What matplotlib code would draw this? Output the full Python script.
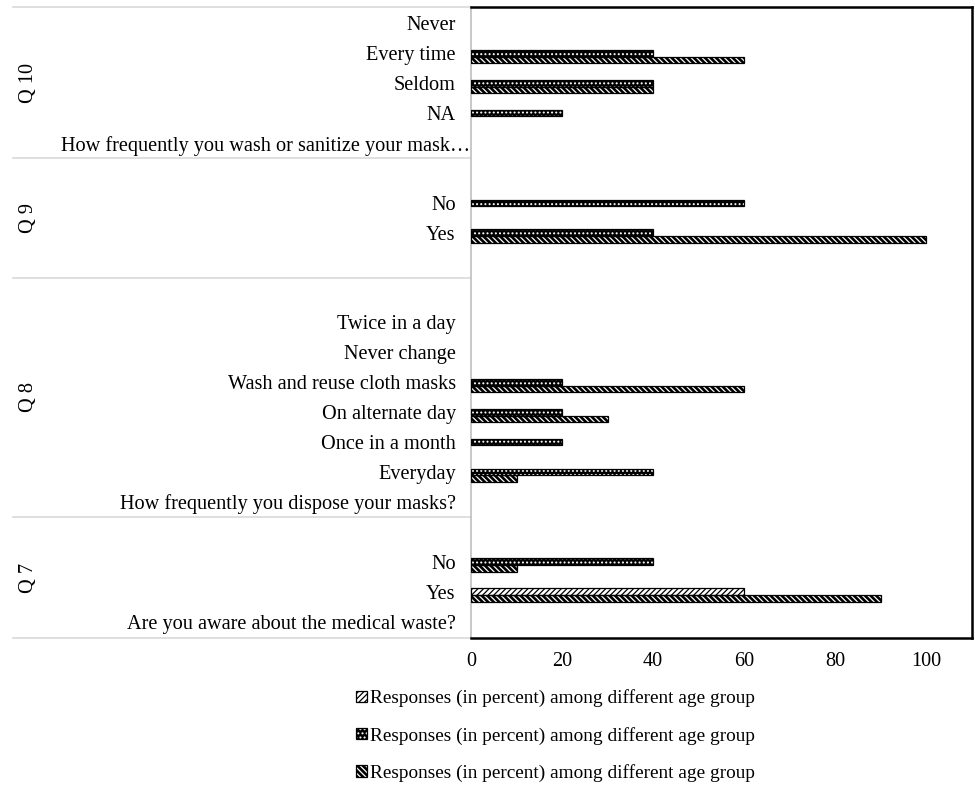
import numpy as np
import matplotlib.pyplot as plt
import matplotlib.transforms as mtransforms
from matplotlib.patches import Patch
from matplotlib.legend_handler import HandlerTuple

plt.rcParams['font.family'] = ['Liberation Serif', 'DejaVu Serif']
plt.rcParams['hatch.linewidth'] = 0.9

# categories, top to bottom
categories = ['Never', 'Every time', 'Seldom', 'NA',
              'How frequently you wash or sanitize your mask\u2026',
              '', 'No', 'Yes', '',
              '', 'Twice in a day', 'Never change', 'Wash and reuse cloth masks',
              'On alternate day', 'Once in a month', 'Everyday',
              'How frequently you dispose your masks?',
              '', 'No', 'Yes', 'Are you aware about the medical waste?']
groups = ['Q 10', 'Q 9', 'Q 8', 'Q 7']
group_sizes = [5, 4, 8, 4]

# series values (percent)
series1 = [0, 0, 0, 0, 0,
           0, 0, 0, 0,
           0, 0, 0, 0, 0, 0, 0, 0,
           0, 0, 60, 0]
series2 = [0, 40, 40, 20, 0,
           0, 60, 40, 0,
           0, 0, 0, 20, 20, 20, 40, 0,
           0, 40, 0, 0]
series3 = [0, 60, 40, 0, 0,
           0, 0, 100, 0,
           0, 0, 0, 60, 30, 0, 10, 0,
           0, 10, 90, 0]
series_label = 'Responses (in percent) among different age group'

FS = 14.6

fig = plt.figure(figsize=(9.75, 7.9), dpi=100)
ax = fig.add_axes([471 / 975, 1 - 638 / 790, 501 / 975, 631 / 790])

y = np.arange(len(categories))
h = 0.22


def draw(vals, offset, face, hatch_col, hatch):
    vals = np.array(vals, dtype=float)
    m = vals > 0
    ax.barh(y[m] + offset, vals[m], height=h, color=face, edgecolor=hatch_col,
            hatch=hatch, linewidth=0, zorder=2)
    ax.barh(y[m] + offset, vals[m], height=h, fill=False, edgecolor='black',
            linewidth=0.9, zorder=3)


draw(series2, 0, 'black', 'white', '....')
draw(series1, 0, 'white', 'black', '//////')
draw(series3, h, 'black', 'white', '\\\\\\\\\\\\')

ax.set_xlim(0, 110)
ax.set_ylim(len(categories) - 0.45, -0.55)
ax.set_xticks([0, 20, 40, 60, 80, 100])
ax.set_yticks(y)
ax.set_yticklabels(categories)
ax.tick_params(axis='y', length=0, pad=11, labelsize=FS)
ax.tick_params(axis='x', length=0, pad=10, labelsize=FS)
for s in ['top', 'right', 'bottom']:
    ax.spines[s].set_color('black')
    ax.spines[s].set_linewidth(1.8)
ax.spines['left'].set_color('#bfbfbf')
ax.spines['left'].set_linewidth(1.2)

# the long, truncated label runs up to the axis line
long_lab = ax.get_yticklabels()[4]
long_lab.set_transform(long_lab.get_transform()
                       + mtransforms.ScaledTranslation(0.14, 0, fig.dpi_scale_trans))

# multi-level category axis: separators and group labels
trans = mtransforms.blended_transform_factory(fig.transFigure, ax.transData)
edges = np.concatenate([[0], np.cumsum(group_sizes)]) - 0.5
edges[0] = -0.55
edges[-1] = len(categories) - 0.45
for e in edges:
    ax.plot([13 / 975, 471 / 975], [e, e], transform=trans, color='#d9d9d9',
            linewidth=1.2, clip_on=False)
for g, a, b in zip(groups, edges[:-1], edges[1:]):
    ax.text(28 / 975, (a + b) / 2, g, transform=trans, rotation=90,
            ha='center', va='center', fontsize=FS)

handles = [
    (Patch(facecolor='white', edgecolor='black', hatch='//////', linewidth=0),
     Patch(fill=False, edgecolor='black', linewidth=0.9)),
    (Patch(facecolor='black', edgecolor='white', hatch='....', linewidth=0),
     Patch(fill=False, edgecolor='black', linewidth=0.9)),
    (Patch(facecolor='black', edgecolor='white', hatch='\\\\\\\\\\\\', linewidth=0),
     Patch(fill=False, edgecolor='black', linewidth=0.9)),
]
fig.legend(handles, [series_label] * 3, handler_map={tuple: HandlerTuple(ndivide=1)},
           loc='upper center', bbox_to_anchor=(0.570, 1 - 672 / 790), frameon=False,
           fontsize=13.9, handlelength=0.55, handleheight=0.55, handletextpad=0.2,
           labelspacing=1.0)

fig.savefig('out.png', dpi=100)
